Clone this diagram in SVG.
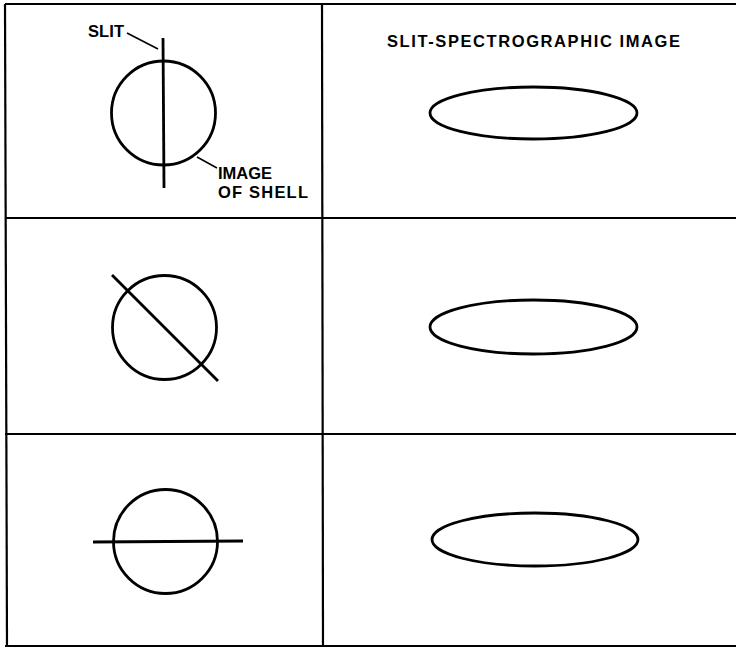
<svg xmlns="http://www.w3.org/2000/svg" width="736" height="648" viewBox="0 0 736 648">
<style>
.rule{stroke:#000;stroke-width:2.2;fill:none}
.shape{stroke:#000;stroke-width:2.8;fill:none}
.lead{stroke:#000;stroke-width:1.5;fill:none}
text{font-family:"Liberation Sans",Arial,sans-serif;font-weight:bold;font-size:16.5px;fill:#000}
</style>
<rect width="736" height="648" fill="#fff"/>
<g id="grid">
<line class="rule" x1="5" y1="4" x2="736" y2="4"/>
<line class="rule" x1="5" y1="218" x2="736" y2="218"/>
<line class="rule" x1="5" y1="434" x2="736" y2="434"/>
<line class="rule" x1="5" y1="646" x2="736" y2="646"/>
<line class="rule" x1="5" y1="4" x2="7" y2="646"/>
<line class="rule" x1="322" y1="4" x2="323" y2="646"/>
</g>
<g id="header">
<text x="387" y="47" textLength="293" lengthAdjust="spacing">SLIT-SPECTROGRAPHIC IMAGE</text>
</g>
<g id="row1-shell">
<circle class="shape" cx="163.5" cy="113" r="52"/>
<line class="shape" x1="163" y1="38" x2="164" y2="188"/>
<text x="88" y="37" textLength="36" lengthAdjust="spacing">SLIT</text>
<line class="lead" x1="127" y1="33" x2="158" y2="49"/>
<line class="lead" x1="197" y1="157" x2="217" y2="168"/>
<text x="218" y="178.5" textLength="54" lengthAdjust="spacing">IMAGE</text>
<text x="218" y="198" textLength="90" lengthAdjust="spacing">OF SHELL</text>
</g>
<g id="row1-image">
<ellipse class="shape" cx="533.5" cy="113" rx="103.5" ry="26"/>
</g>
<g id="row2-shell">
<circle class="shape" cx="164.5" cy="327.5" r="52"/>
<line class="shape" x1="112" y1="275" x2="218" y2="381"/>
</g>
<g id="row2-image">
<ellipse class="shape" cx="533.5" cy="327" rx="103.5" ry="27"/>
</g>
<g id="row3-shell">
<circle class="shape" cx="165.5" cy="541.5" r="52"/>
<line class="shape" x1="93" y1="542" x2="243" y2="541"/>
</g>
<g id="row3-image">
<ellipse class="shape" cx="535" cy="539.5" rx="103" ry="26.5"/>
</g>
</svg>
